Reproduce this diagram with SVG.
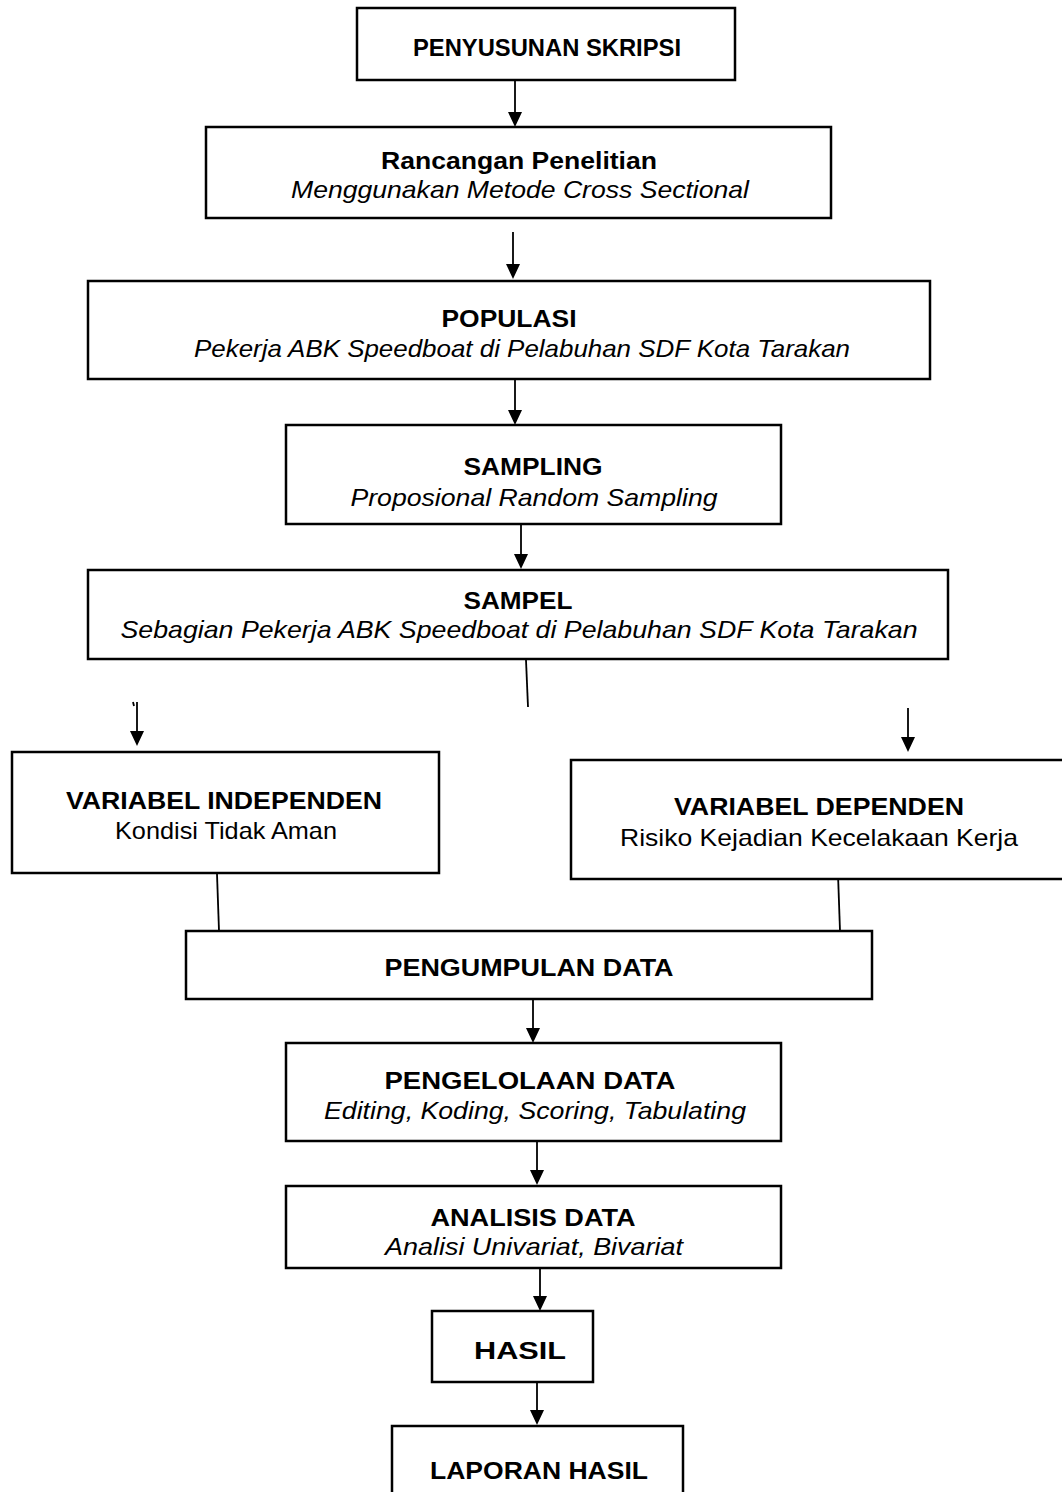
<svg xmlns="http://www.w3.org/2000/svg" width="1062" height="1492" viewBox="0 0 1062 1492">
<style>
.box{fill:#fff;stroke:#000;stroke-width:2.5}
.ln{stroke:#000;stroke-width:1.8;fill:none}
.t{font-family:"Liberation Sans",Arial,sans-serif;font-size:24px;fill:#000;text-anchor:middle}
.b{font-weight:bold}
.i{font-style:italic}
</style>
<rect width="1062" height="1492" fill="#fff"/>
<g id="connectors">
<line class="ln" x1="515" y1="80" x2="515" y2="114"/>
<line class="ln" x1="513" y1="232" x2="513" y2="266"/>
<line class="ln" x1="515" y1="380" x2="515" y2="412"/>
<line class="ln" x1="521" y1="525" x2="521" y2="556"/>
<line class="ln" x1="526" y1="660" x2="528" y2="707"/>
<line class="ln" x1="137" y1="702" x2="137" y2="733"/>
<line class="ln" x1="133" y1="702" x2="134" y2="706"/>
<line class="ln" x1="908" y1="708" x2="908" y2="739"/>
<line class="ln" x1="217" y1="874" x2="219" y2="931"/>
<line class="ln" x1="838" y1="874" x2="840" y2="931"/>
<line class="ln" x1="533" y1="1000" x2="533" y2="1030"/>
<line class="ln" x1="537" y1="1142" x2="537" y2="1172"/>
<line class="ln" x1="540" y1="1269" x2="540" y2="1298"/>
<line class="ln" x1="537" y1="1383" x2="537" y2="1412"/>
<g fill="#000">
<path d="M508,112 L522,112 L515,127 Z"/>
<path d="M506,264 L520,264 L513,279 Z"/>
<path d="M508,410 L522,410 L515,425 Z"/>
<path d="M514,554 L528,554 L521,569 Z"/>
<path d="M130,731 L144,731 L137,746 Z"/>
<path d="M901,737 L915,737 L908,752 Z"/>
<path d="M526,1028 L540,1028 L533,1043 Z"/>
<path d="M530,1170 L544,1170 L537,1185 Z"/>
<path d="M533,1296 L547,1296 L540,1311 Z"/>
<path d="M530,1410 L544,1410 L537,1425 Z"/>
</g>
</g>
<g id="n1"><rect class="box" x="357" y="8" width="378" height="72"/>
<text class="t b" x="547" y="56" textLength="268" lengthAdjust="spacingAndGlyphs">PENYUSUNAN SKRIPSI</text></g>
<g id="n2"><rect class="box" x="206" y="127" width="625" height="91"/>
<text class="t b" x="519" y="169" textLength="276" lengthAdjust="spacingAndGlyphs">Rancangan Penelitian</text>
<text class="t i" x="520" y="198" textLength="458" lengthAdjust="spacingAndGlyphs">Menggunakan Metode Cross Sectional</text></g>
<g id="n3"><rect class="box" x="88" y="281" width="842" height="98"/>
<text class="t b" x="509" y="327" textLength="135" lengthAdjust="spacingAndGlyphs">POPULASI</text>
<text class="t i" x="522" y="357" textLength="656" lengthAdjust="spacingAndGlyphs">Pekerja ABK Speedboat di Pelabuhan SDF Kota Tarakan</text></g>
<g id="n4"><rect class="box" x="286" y="425" width="495" height="99"/>
<text class="t b" x="533" y="475" textLength="139" lengthAdjust="spacingAndGlyphs">SAMPLING</text>
<text class="t i" x="534" y="506" textLength="367" lengthAdjust="spacingAndGlyphs">Proposional Random Sampling</text></g>
<g id="n5"><rect class="box" x="88" y="570" width="860" height="89"/>
<text class="t b" x="518" y="609" textLength="109" lengthAdjust="spacingAndGlyphs">SAMPEL</text>
<text class="t i" x="519" y="638" textLength="797" lengthAdjust="spacingAndGlyphs">Sebagian Pekerja ABK Speedboat di Pelabuhan SDF Kota Tarakan</text></g>
<g id="n6"><rect class="box" x="12" y="752" width="427" height="121"/>
<text class="t b" x="224" y="809" textLength="316" lengthAdjust="spacingAndGlyphs">VARIABEL INDEPENDEN</text>
<text class="t" x="226" y="839" textLength="222" lengthAdjust="spacingAndGlyphs">Kondisi Tidak Aman</text></g>
<g id="n7"><rect class="box" x="571" y="760" width="500" height="119"/>
<text class="t b" x="819" y="815" textLength="290" lengthAdjust="spacingAndGlyphs">VARIABEL DEPENDEN</text>
<text class="t" x="819" y="846" textLength="398" lengthAdjust="spacingAndGlyphs">Risiko Kejadian Kecelakaan Kerja</text></g>
<g id="n8"><rect class="box" x="186" y="931" width="686" height="68"/>
<text class="t b" x="529" y="976" textLength="289" lengthAdjust="spacingAndGlyphs">PENGUMPULAN DATA</text></g>
<g id="n9"><rect class="box" x="286" y="1043" width="495" height="98"/>
<text class="t b" x="530" y="1089" textLength="291" lengthAdjust="spacingAndGlyphs">PENGELOLAAN DATA</text>
<text class="t i" x="535" y="1119" textLength="422" lengthAdjust="spacingAndGlyphs">Editing, Koding, Scoring, Tabulating</text></g>
<g id="n10"><rect class="box" x="286" y="1186" width="495" height="82"/>
<text class="t b" x="533" y="1226" textLength="205" lengthAdjust="spacingAndGlyphs">ANALISIS DATA</text>
<text class="t i" x="534" y="1255" textLength="298" lengthAdjust="spacingAndGlyphs">Analisi Univariat, Bivariat</text></g>
<g id="n11"><rect class="box" x="432" y="1311" width="161" height="71"/>
<text class="t b" x="520" y="1359" textLength="92" lengthAdjust="spacingAndGlyphs">HASIL</text></g>
<g id="n12"><rect class="box" x="392" y="1426" width="291" height="80"/>
<text class="t b" x="539" y="1479" textLength="218" lengthAdjust="spacingAndGlyphs">LAPORAN HASIL</text></g>
</svg>
